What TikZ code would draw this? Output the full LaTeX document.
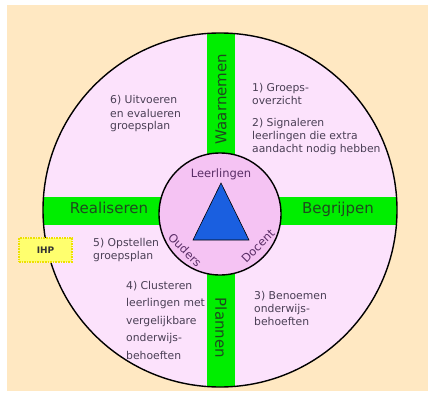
\documentclass[tikz,border=0pt]{standalone}
\usepackage{fontspec}
\setmainfont{DejaVu Sans}
\usepackage{xcolor}

\definecolor{bgorange}{HTML}{FFE8C2}
\definecolor{ringpink}{HTML}{FCE2FC}
\definecolor{corepink}{HTML}{F5C3F3}
\definecolor{bargreen}{HTML}{00EE00}
\definecolor{bardark}{HTML}{1E4A1E}
\definecolor{corepurple}{HTML}{5A2D66}
\definecolor{textgrey}{HTML}{4A3F55}
\definecolor{triblue}{HTML}{1A5FE0}
\definecolor{ihpyellow}{HTML}{FFFF6E}
\definecolor{ihpborder}{HTML}{EDE000}

\tikzset{
    phasetext/.style={text=textgrey, font=\fontsize{10.8}{13}\selectfont,
        align=left, anchor=base west, inner sep=0pt},
    barlabel/.style={text=bardark, font=\fontsize{15}{18}\selectfont},
    corelabel/.style={text=corepurple, font=\fontsize{11.5}{14}\selectfont, inner sep=0.5pt},
    ihpbox/.style={fill=ihpyellow, draw=ihpborder, densely dotted, line width=1.6pt,
        minimum width=53, minimum height=24, inner sep=0pt,
        font=\bfseries\fontsize{9}{10}\selectfont, text=black!80}
}

\begin{document}
\begin{tikzpicture}[x=1pt,y=-1pt]
    \useasboundingbox (0,0) rectangle (428,401);
    % Background
    \fill[bgorange] (7,5) rectangle (428,391);

    % Outer circle with the two bars
    \fill[ringpink] (220,210) circle[radius=177];
    \begin{scope}
        \clip (220,210) circle[radius=177];
        \fill[bargreen] (0,197) rectangle (428,225);
        \fill[bargreen] (207,0) rectangle (235,401);
    \end{scope}
    \draw[line width=1.4pt] (220,210) circle[radius=177];

    % Inner circle and triangle
    \draw[line width=1.4pt, fill=corepink] (220,214) circle[radius=61];
    \draw[fill=triblue, line width=0.6pt] (221,183) -- (249,240) -- (193,240) -- cycle;
    \node[corelabel, anchor=base] (leerlingen) at (221,177) {Leerlingen};
    \node[corelabel, rotate=-45] (ouders) at (185,250) {Ouders};
    \node[corelabel, rotate=45] (docent) at (258,246) {Docent};

    % Bar labels
    \node[barlabel, rotate=90] (waarnemen) at (221,99) {Waarnemen};
    \node[barlabel, anchor=mid] (realiseren) at (109,211) {Realiseren};
    \node[barlabel, anchor=mid] (begrijpen) at (338,211) {Begrijpen};
    \node[barlabel, rotate=-90] (plannen) at (221,328) {Plannen};

    % Steps (placed at the baseline of their last line)
    \node[phasetext] (overzicht) at (252,105) {1) Groeps-\\overzicht};
    \node[phasetext] (signaleren) at (252,152) {2) Signaleren\\leerlingen die extra\\aandacht nodig hebben};
    \node[phasetext] (benoemen) at (254,325) {3) Benoemen\\onderwijs-\\behoeften};
    \node[phasetext, font=\fontsize{10.8}{17.5}\selectfont] (clusteren) at (126,359)
        {4) Clusteren\\leerlingen met\\vergelijkbare\\onderwijs-\\behoeften};
    \node[phasetext] (opstellen) at (93,259) {5) Opstellen\\groepsplan};
    \node[phasetext] (uitvoeren) at (110,130) {6) Uitvoeren\\en evalueren\\groepsplan};

    % IHP
    \node[ihpbox] (ihp) at (45.5,250) {IHP};
\end{tikzpicture}
\end{document}
